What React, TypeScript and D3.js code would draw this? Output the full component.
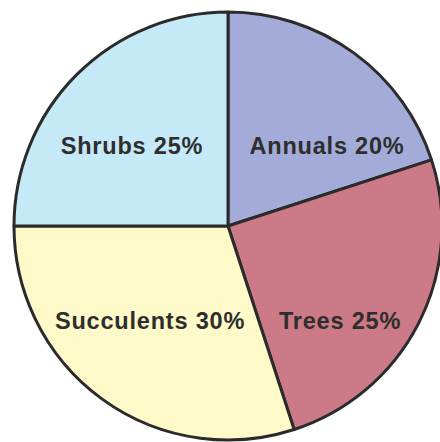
import React from "react";
import * as d3 from "d3";

const categories = ["Annuals", "Trees", "Succulents", "Shrubs"];
const values = [20, 25, 30, 25];
const colors = ["#a3acd8", "#cc7a87", "#fdf9c9", "#c6e9f8"];
// label anchor offsets from pie center (px)
const labelDx = [99, 112, -78, -96];
const labelDy = [-80, 95, 95, -80];

export default function App() {
  const width = 440;
  const height = 442;
  const cx = 228;
  const cy = 226;
  const r = 214;
  const pie = d3.pie<number>().sort(null).value((d) => d);
  const arcs = pie(values);
  const arc = d3.arc<d3.PieArcDatum<number>>().innerRadius(0).outerRadius(r);
  return (
    <svg
      width={width}
      height={height}
      style={{ position: "absolute", left: 0, top: 0, background: "#fff" }}
    >
      <g transform={`translate(${cx},${cy})`}>
        {arcs.map((a, i) => (
          <path
            key={i}
            d={arc(a) || ""}
            fill={colors[i]}
            stroke="#2b2b2b"
            strokeWidth={3}
            strokeLinejoin="round"
          />
        ))}
        {arcs.map((a, i) => (
          <text
            key={"t" + i}
            x={labelDx[i]}
            y={labelDy[i]}
            textAnchor="middle"
            dominantBaseline="central"
            fontFamily="'Liberation Sans', Arial, sans-serif"
            fontWeight="bold"
            fontSize={23.5}
            letterSpacing={0.8}
            fill="#2e2e2e"
          >
            {`${categories[i]} ${values[i]}%`}
          </text>
        ))}
      </g>
    </svg>
  );
}
